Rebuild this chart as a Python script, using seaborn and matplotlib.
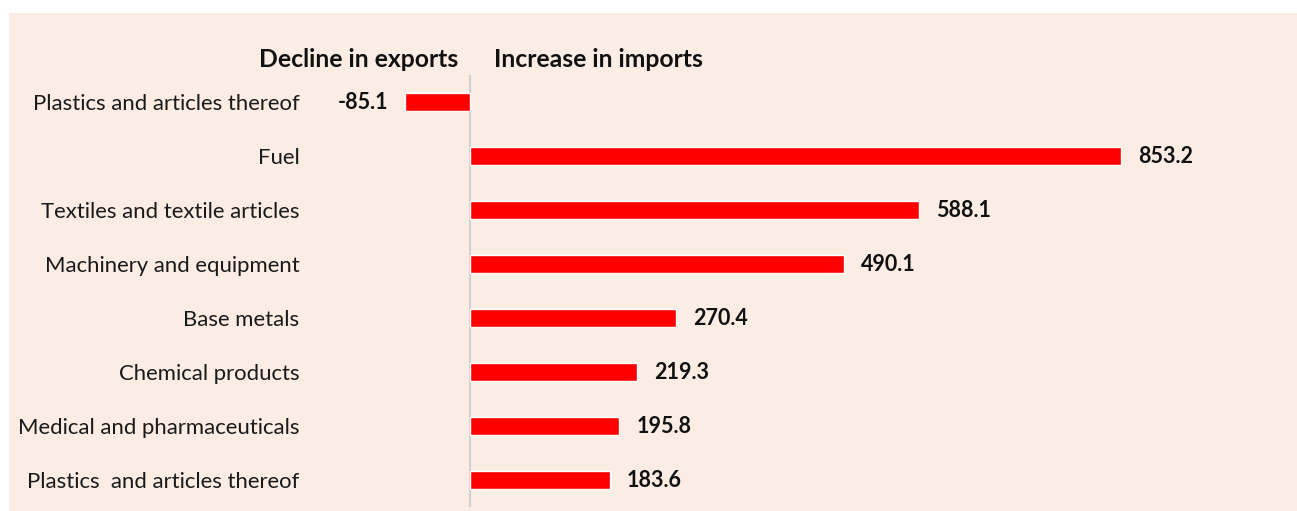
import matplotlib
matplotlib.use("Agg")
import matplotlib.pyplot as plt
import seaborn as sns
import pandas as pd
from matplotlib.patches import Rectangle

categories = [
    "Plastics and articles thereof",
    "Fuel",
    "Textiles and textile articles",
    "Machinery and equipment",
    "Base metals",
    "Chemical products",
    "Medical and pharmaceuticals",
    "Plastics  and articles thereof",
]
values = [-85.1, 853.2, 588.1, 490.1, 270.4, 219.3, 195.8, 183.6]
value_labels = ["-85.1", "853.2", "588.1", "490.1", "270.4", "219.3", "195.8", "183.6"]
header_left = "Decline in exports"
header_right = "Increase in imports"

BG = "#FBECE4"
FONT = ["Lato", "DejaVu Sans"]

sns.set_theme(style="white")
plt.rcParams["font.family"] = FONT

W, H = 1297, 511
fig = plt.figure(figsize=(W / 100, H / 100), dpi=100)
fig.patch.set_facecolor("white")
fig.patches.append(Rectangle((9 / W, 0), 1 - 9 / W, 1 - 13 / H, transform=fig.transFigure,
                             facecolor=BG, edgecolor="none", zorder=-10))

ax_left, ax_right = 305, 1290
ax_top, ax_bot = 75, 507
ax = fig.add_axes([ax_left / W, 1 - ax_bot / H, (ax_right - ax_left) / W, (ax_bot - ax_top) / H])
ax.set_facecolor("none")

df = pd.DataFrame({"cat": categories, "val": values})
sns.barplot(data=df, x="val", y="cat", orient="h", color="#FF0000", width=0.34,
            saturation=1, ax=ax, order=categories)

ppu = 0.763
x0 = 470
ax.set_xlim(-(x0 - ax_left) / ppu, (ax_right - x0) / ppu)
ax.set_ylim(len(categories) - 0.5, -0.5)

for s in ["top", "right", "bottom", "left"]:
    ax.spines[s].set_visible(False)
ax.axvline(0, color="#D0D0D0", lw=1.5, zorder=0.5)
ax.set_xticks([])
ax.set_xlabel("")
ax.set_ylabel("")
ax.tick_params(axis="y", length=0, pad=4, labelsize=15.9)
for t in ax.get_yticklabels():
    t.set_color("#1a1a1a")

off = 17 / ppu
for i, (v, lab) in enumerate(zip(values, value_labels)):
    if v < 0:
        ax.text(v - off, i, lab, ha="right", va="center", fontsize=15.5, fontweight="bold", color="#111111")
    else:
        ax.text(v + off, i, lab, ha="left", va="center", fontsize=15.5, fontweight="bold", color="#111111")

fig.text(458 / W, 1 - 59 / H, header_left, ha="right", va="center", fontsize=17.8,
         fontweight="bold", color="#111111")
fig.text(494 / W, 1 - 59 / H, header_right, ha="left", va="center", fontsize=17.8,
         fontweight="bold", color="#111111")

fig.savefig("out.png", dpi=100, facecolor=fig.get_facecolor())
